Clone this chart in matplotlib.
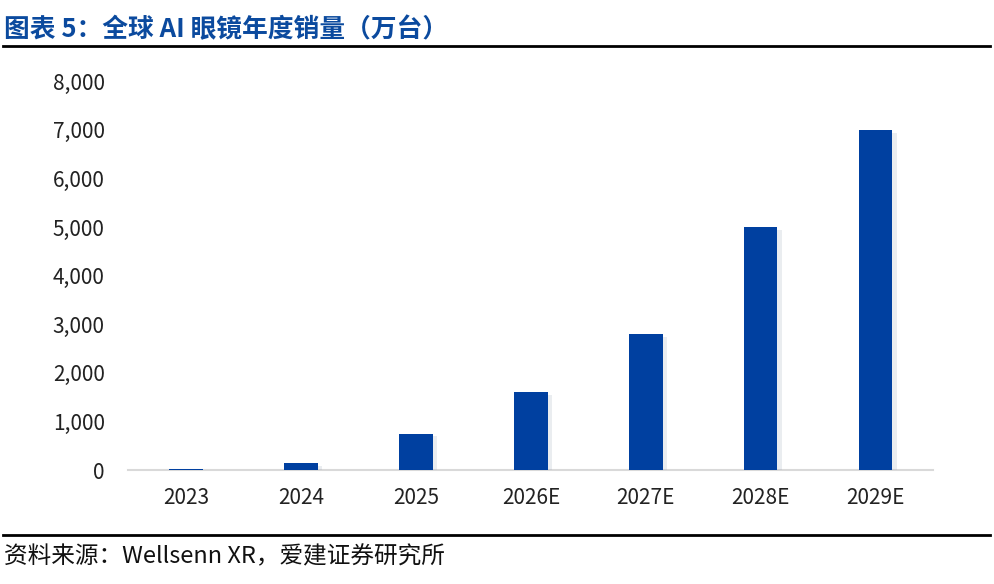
import matplotlib.pyplot as plt
import matplotlib.patheffects as pe
from matplotlib.lines import Line2D

plt.rcParams['font.family'] = ['Noto Sans CJK SC', 'DejaVu Sans']

years = ["2023", "2024", "2025", "2026E", "2027E", "2028E", "2029E"]
sales = [30, 150, 750, 1600, 2800, 5000, 7000]  # 万台

fig = plt.figure(figsize=(9.95, 5.84), dpi=100)
ax = fig.add_axes([0.129, 0.195, 0.809, 0.666])

bars = ax.bar(years, sales, width=0.29, color="#0040a0", zorder=3)
for b in bars:
    b.set_path_effects([pe.SimplePatchShadow(offset=(3, -2), shadow_rgbFace="#9aa5b8", alpha=0.2), pe.Normal()])

ax.set_ylim(0, 8000)
ax.set_xlim(-0.5, 6.5)
ax.set_yticks(range(0, 8001, 1000))
ax.set_yticklabels([f"{v:,}" for v in range(0, 8001, 1000)])
ax.tick_params(axis="both", length=0, labelsize=15, colors="#222222")
ax.tick_params(axis="y", pad=17)
ax.tick_params(axis="x", pad=12)
for s in ["top", "right", "left"]:
    ax.spines[s].set_visible(False)
ax.spines["bottom"].set_color("#d9d9d9")
ax.spines["bottom"].set_linewidth(1.5)

fig.text(0.004, 0.950, "图表 5：全球 AI 眼镜年度销量（万台）", fontsize=18.5, fontweight="bold",
         color="#0b4a9e", va="center", ha="left")
fig.add_artist(Line2D([0.003, 0.995], [0.921, 0.921], color="black", lw=2))
fig.add_artist(Line2D([0.003, 0.995], [0.084, 0.084], color="black", lw=2))
fig.text(0.004, 0.047, "资料来源：Wellsenn XR，爱建证券研究所", fontsize=17, color="#111111",
         va="center", ha="left")

fig.savefig("out.png", dpi=100)
